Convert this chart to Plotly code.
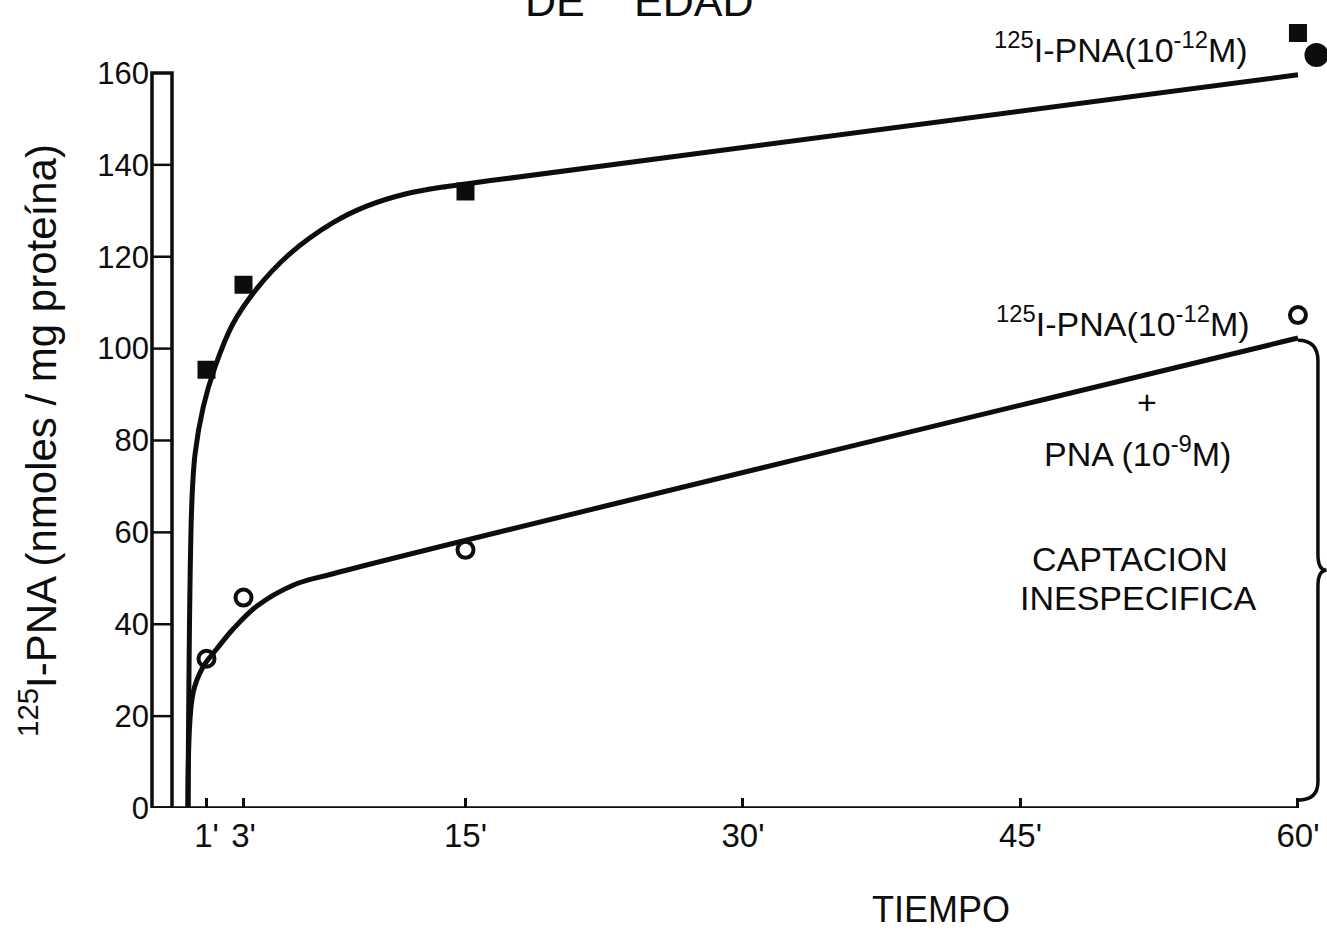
import plotly.graph_objects as go

# ---------------- data ----------------
TICK_MIN = [1, 3, 15, 30, 45, 60]
TICK_TEXT = ["1'", "3'", "15'", "30'", "45'", "60'"]
Y_TICKS = [0, 20, 40, 60, 80, 100, 120, 140, 160]

TIME_POINTS = [1, 3, 15, 60]
TOTAL_UPTAKE = [95.4, 113.9, 134.2, 168.7]          # filled squares: 125I-PNA (10^-12 M)
NONSPEC_UPTAKE = [32.5, 45.8, 56.2, 107.3]          # open circles: + PNA (10^-9 M)
KEY_DOT_T = [61.0]
KEY_DOT_Y = [163.9]

CURVE_T_UPPER = [0, 0.2, 0.38, 0.83, 1.46, 2.43, 3.71, 5.5, 7.84, 9.66, 11.8, 14.0, 17.0, 60]
CURVE_UPPER = [0, 65.6, 77, 87.4, 96, 105.4, 113, 120.6, 127.4, 131.0, 133.7, 135.3, 136.9, 159.6]
CURVE_T_LOWER = [0, 0.27, 0.81, 1.55, 2.43, 3.71, 5.68, 7.84, 60]
CURVE_LOWER = [0, 25, 30.7, 34.6, 38.9, 43.9, 48.5, 51.0, 102.3]

# ---------------- style / layout constants ----------------
INK = "#0d0d0d"
FONT = "Liberation Sans, Arial, sans-serif"
X_RANGE = [-2.054, 61.57]
Y_RANGE = [0, 171.53]
LADDER_X0, LADDER_X1 = -1.946, -0.865

fig = go.Figure()

for tx, ty in ((CURVE_T_UPPER, CURVE_UPPER), (CURVE_T_LOWER, CURVE_LOWER)):
    fig.add_trace(go.Scatter(x=tx, y=ty, mode="lines",
                             line=dict(color=INK, width=5, shape="spline", smoothing=1.0),
                             cliponaxis=False, showlegend=False, hoverinfo="skip"))
fig.add_trace(go.Scatter(x=TIME_POINTS, y=TOTAL_UPTAKE, mode="markers",
                         marker=dict(symbol="square", size=18, color=INK),
                         cliponaxis=False, showlegend=False))
fig.add_trace(go.Scatter(x=TIME_POINTS, y=NONSPEC_UPTAKE, mode="markers",
                         marker=dict(symbol="circle-open", size=16, color=INK,
                                     line=dict(width=4, color=INK)),
                         cliponaxis=False, showlegend=False))
fig.add_trace(go.Scatter(x=KEY_DOT_T, y=KEY_DOT_Y, mode="markers",
                         marker=dict(symbol="circle", size=24, color=INK),
                         cliponaxis=False, showlegend=False))

shapes = []
# ladder-style y axis
shapes.append(dict(type="rect", xref="x", yref="y", x0=LADDER_X0, x1=LADDER_X1,
                   y0=Y_TICKS[0], y1=Y_TICKS[-1], line=dict(color=INK, width=3.5)))
for v in Y_TICKS[1:-1]:
    shapes.append(dict(type="line", xref="x", yref="y", x0=LADDER_X0, x1=LADDER_X1,
                       y0=v, y1=v, line=dict(color=INK, width=2.5)))
# x axis baseline
shapes.append(dict(type="line", xref="x", yref="y", x0=LADDER_X0, x1=TICK_MIN[-1],
                   y0=0, y1=0, line=dict(color=INK, width=3.5)))
# brace for "captacion inespecifica"
bx0, bx1, bx2 = 60.0, 61.08, 61.55
yt = CURVE_LOWER[-1] - 0.5
yb = 1.7
ym = (yt + yb) / 2
brace = (f"M {bx0},{yt} Q {bx1},{yt} {bx1},{yt-4.5} L {bx1},{ym+3.5} "
         f"Q {bx1},{ym} {bx2},{ym} Q {bx1},{ym} {bx1},{ym-3.5} "
         f"L {bx1},{yb+4} Q {bx1},{yb} {bx0},{yb}")
shapes.append(dict(type="path", xref="x", yref="y", path=brace,
                   line=dict(color=INK, width=3.5)))

ann_font = dict(family=FONT, size=34, color=INK)
annotations = [
    dict(x=50.43, y=165.6, text="<sup>125</sup>I-PNA(10<sup>-12</sup>M)"),
    dict(x=50.54, y=105.8, text="<sup>125</sup>I-PNA(10<sup>-12</sup>M)"),
    dict(x=51.84, y=88.3, text="+"),
    dict(x=51.35, y=77.7, text="PNA (10<sup>-9</sup>M)"),
    dict(x=50.92, y=54.2, text="CAPTACION"),
    dict(x=51.35, y=45.7, text="INESPECIFICA"),
]
for a in annotations:
    a.update(font=ann_font, xref="x", yref="y", showarrow=False,
             xanchor="center", yanchor="middle")
# texts outside the plotting area (paper-referenced so they are not hidden)
annotations += [
    dict(xref="x", yref="paper", x=40.7, y=0, yshift=-101, text="TIEMPO",
         font=dict(family=FONT, size=36, color=INK)),
    dict(xref="x", yref="paper", x=19.84, y=1, yshift=19, text="DE",
         font=dict(family=FONT, size=43, color=INK)),
    dict(xref="x", yref="paper", x=27.35, y=1, yshift=19, text="EDAD",
         font=dict(family=FONT, size=43, color=INK)),
    dict(xref="paper", yref="y", x=-0.0952, y=80.1, textangle=-90,
         text="<sup>125</sup>I-PNA (nmoles / mg proteína)",
         font=dict(family=FONT, size=42, color=INK)),
]
for a in annotations[-4:]:
    a.update(showarrow=False, xanchor="center", yanchor="middle")

fig.update_layout(
    width=1327, height=930,
    margin=dict(l=150, r=0, t=20, b=122),
    paper_bgcolor="white", plot_bgcolor="white",
    shapes=shapes, annotations=annotations,
    showlegend=False,
    xaxis=dict(range=X_RANGE, tickvals=TICK_MIN, ticktext=TICK_TEXT,
               ticks="inside", ticklen=10, tickwidth=2.5, tickcolor=INK,
               ticklabelstandoff=5,
               showgrid=False, zeroline=False, showline=False,
               tickfont=dict(family=FONT, size=33, color=INK)),
    yaxis=dict(range=Y_RANGE, tickvals=Y_TICKS, ticks="",
               showgrid=False, zeroline=False, showline=False,
               tickfont=dict(family=FONT, size=31, color=INK)),
)

fig.write_html("out.html")
